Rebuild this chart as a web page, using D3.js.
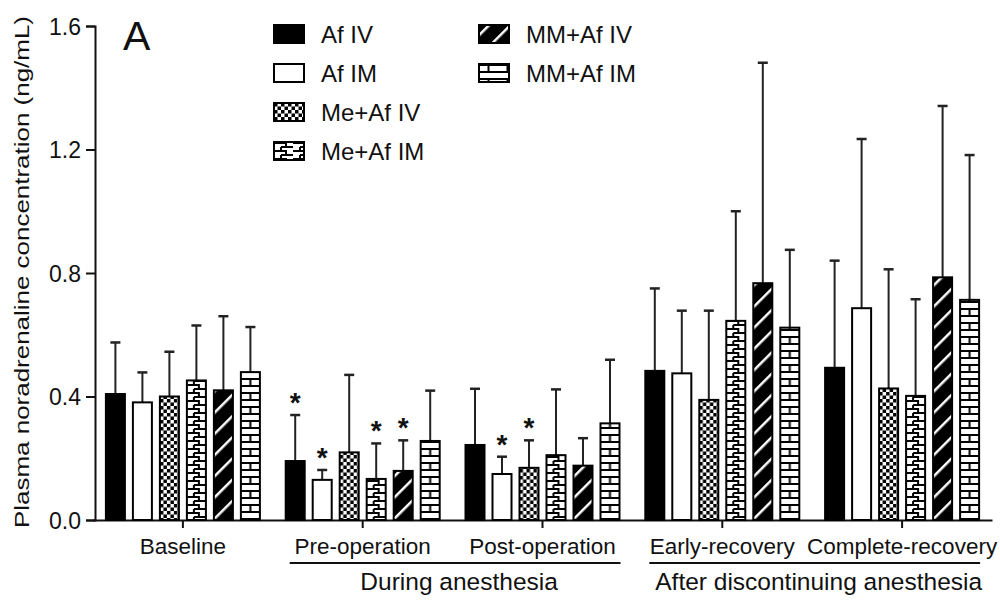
<!DOCTYPE html>
<html>
<head>
<meta charset="utf-8">
<script src="https://cdn.jsdelivr.net/npm/d3@7"></script>
<style>
  body { margin: 0; background: #fff; }
  text { font-family: "Liberation Sans", Arial, sans-serif; fill: #111; }
</style>
</head>
<body>
<div class="chart"></div>
<script>
const width = 1000, height = 601;

// data
const groups = ["Baseline", "Pre-operation", "Post-operation", "Early-recovery", "Complete-recovery"];
const series = ["Af IV", "Af IM", "Me+Af IV", "Me+Af IM", "MM+Af IV", "MM+Af IM"];
const meanAfIV   = [0.408, 0.191, 0.243, 0.483, 0.493];
const meanAfIM   = [0.381, 0.130, 0.149, 0.475, 0.686];
const meanMeIV   = [0.400, 0.219, 0.169, 0.389, 0.426];
const meanMeIM   = [0.452, 0.133, 0.210, 0.645, 0.402];
const meanMMIV   = [0.420, 0.159, 0.176, 0.767, 0.786];
const meanMMIM   = [0.479, 0.256, 0.313, 0.623, 0.713];
const sdAfIV = [0.167, 0.149, 0.182, 0.267, 0.347];
const sdAfIM = [0.097, 0.032, 0.056, 0.203, 0.548];
const sdMeIV = [0.145, 0.251, 0.089, 0.289, 0.386];
const sdMeIM = [0.178, 0.115, 0.213, 0.355, 0.313];
const sdMMIV = [0.240, 0.099, 0.089, 0.714, 0.555];
const sdMMIM = [0.146, 0.163, 0.206, 0.252, 0.469];
// significant vs baseline: [group, series]
const stars = [["Pre-operation", "Af IV"], ["Pre-operation", "Af IM"], ["Pre-operation", "Me+Af IM"],
               ["Pre-operation", "MM+Af IV"], ["Post-operation", "Af IM"], ["Post-operation", "Me+Af IV"]];
const yTicks = [0, 0.4, 0.8, 1.2, 1.6];
const brackets = [
  {label: "During anesthesia", from: "Pre-operation", to: "Post-operation"},
  {label: "After discontinuing anesthesia", from: "Early-recovery", to: "Complete-recovery"}
];

const means = [meanAfIV, meanAfIM, meanMeIV, meanMeIM, meanMMIV, meanMMIM];
const sds = [sdAfIV, sdAfIM, sdMeIV, sdMeIM, sdMMIV, sdMMIM];
const fills = ["#000", "#fff", "url(#checker)", "url(#meander)", "url(#diag)", "url(#brick)"];

let rows = [];
groups.forEach((g, gi) => series.forEach((s, si) =>
  rows.push({group: g, series: s, si: si, mean: means[si][gi], sd: sds[si][gi]})));

const svg = d3.select(".chart").append("svg")
  .attr("width", width).attr("height", height);

// patterns
const defs = svg.append("defs");
let p = defs.append("pattern").attr("id", "checker").attr("patternUnits", "userSpaceOnUse")
  .attr("width", 7).attr("height", 7);
p.append("rect").attr("width", 7).attr("height", 7).attr("fill", "#fff");
p.append("rect").attr("width", 3.5).attr("height", 3.5).attr("fill", "#000");
p.append("rect").attr("x", 3.5).attr("y", 3.5).attr("width", 3.5).attr("height", 3.5).attr("fill", "#000");

p = defs.append("pattern").attr("id", "meander").attr("patternUnits", "userSpaceOnUse")
  .attr("width", 19).attr("height", 8);
p.append("rect").attr("width", 19).attr("height", 8).attr("fill", "#fff");
p.append("path").attr("d", "M0,1 H12 V5 M7,5 H19 M7,5 V8")
  .attr("stroke", "#000").attr("stroke-width", 2).attr("fill", "none");

p = defs.append("pattern").attr("id", "diag").attr("patternUnits", "userSpaceOnUse")
  .attr("width", 15).attr("height", 15).attr("patternTransform", "rotate(45)");
p.append("rect").attr("width", 15).attr("height", 15).attr("fill", "#000");
p.append("rect").attr("x", 6).attr("width", 2.5).attr("height", 15).attr("fill", "#fff");

p = defs.append("pattern").attr("id", "brick").attr("patternUnits", "userSpaceOnUse")
  .attr("width", 19).attr("height", 14);
p.append("rect").attr("width", 19).attr("height", 14).attr("fill", "#fff");
p.append("path").attr("d", "M0,1 H19 M0,8 H19 M9.5,1 V8")
  .attr("stroke", "#000").attr("stroke-width", 2).attr("fill", "none");

// scales
const x = d3.scaleBand().domain(groups).range([93, 992]);
const xs = d3.scaleBand().domain(series).range([-77, 77]).paddingInner(0.296);
const y = d3.scaleLinear().domain([0, 1.6]).range([520, 26]);

// axes
const yAxis = svg.append("g").attr("transform", "translate(95,0)")
  .call(d3.axisLeft(y).tickValues(yTicks).tickFormat(d3.format(".1f")).tickSize(9).tickPadding(5));
yAxis.selectAll("text").style("font-size", "23px").attr("dy", "0.36em");
yAxis.selectAll("path,line").attr("stroke", "#111").attr("stroke-width", 2);

const xAxis = svg.append("g").attr("transform", "translate(0,520)")
  .call(d3.axisBottom(x).tickSize(8).tickSizeOuter(0).tickPadding(6));
xAxis.selectAll("text").style("font-size", "22.5px").attr("dy", "0.9em");
xAxis.selectAll("path,line").attr("stroke", "#111").attr("stroke-width", 2);

// bars
const bar = svg.append("g").selectAll("g.bar").data(rows).enter().append("g")
  .attr("class", "bar")
  .attr("transform", d => "translate(" + (x(d.group) + x.bandwidth() / 2 + xs(d.series)) + ",0)");

bar.append("line")
  .attr("x1", xs.bandwidth() / 2).attr("x2", xs.bandwidth() / 2)
  .attr("y1", d => y(d.mean)).attr("y2", d => y(d.mean + d.sd))
  .attr("stroke", "#222").attr("stroke-width", 2);
bar.append("line")
  .attr("x1", xs.bandwidth() / 2 - 5).attr("x2", xs.bandwidth() / 2 + 5)
  .attr("y1", d => y(d.mean + d.sd)).attr("y2", d => y(d.mean + d.sd))
  .attr("stroke", "#222").attr("stroke-width", 2.5);
bar.append("rect")
  .attr("x", 0).attr("width", xs.bandwidth())
  .attr("y", d => y(d.mean)).attr("height", d => y(0) - y(d.mean))
  .attr("fill", d => fills[d.si]).attr("stroke", "#000").attr("stroke-width", 2);

// significance stars
svg.append("g").selectAll("text").data(stars).enter().append("text")
  .attr("x", d => x(d[0]) + x.bandwidth() / 2 + xs(d[1]) + xs.bandwidth() / 2)
  .attr("y", d => {
    const r = rows.find(o => o.group == d[0] && o.series == d[1]);
    return y(r.mean + r.sd) - 3;
  })
  .attr("text-anchor", "middle").style("font-size", "28px").style("font-weight", "bold")
  .text("*");

// group brackets
brackets.forEach(b => {
  const x1 = x(b.from) + x.bandwidth() / 2 - 73, x2 = x(b.to) + x.bandwidth() / 2 + 78;
  svg.append("line").attr("x1", x1).attr("x2", x2).attr("y1", 563).attr("y2", 563)
    .attr("stroke", "#111").attr("stroke-width", 2);
  svg.append("text").attr("x", (x1 + x2) / 2 + 4).attr("y", 590).attr("text-anchor", "middle")
    .style("font-size", "24.5px").text(b.label);
});

// y title
svg.append("text").attr("transform", "translate(29,272) rotate(-90)")
  .attr("text-anchor", "middle").style("font-size", "21px")
  .attr("textLength", 512).attr("lengthAdjust", "spacingAndGlyphs")
  .text("Plasma noradrenaline concentration (ng/mL)");

// panel letter
svg.append("text").attr("x", 123).attr("y", 50).style("font-size", "41px").text("A");

// legend
const legend = svg.append("g").selectAll("g").data(series).enter().append("g")
  .attr("transform", (d, i) => i < 4
    ? "translate(274," + (25 + i * 39) + ")"
    : "translate(479," + (25 + (i - 4) * 39) + ")");
legend.append("rect").attr("width", 30).attr("height", 18)
  .attr("fill", (d, i) => fills[i]).attr("stroke", "#000").attr("stroke-width", 2);
legend.append("text").attr("x", 47).attr("y", 17.5).style("font-size", "24px").text(d => d);
</script>
</body>
</html>
